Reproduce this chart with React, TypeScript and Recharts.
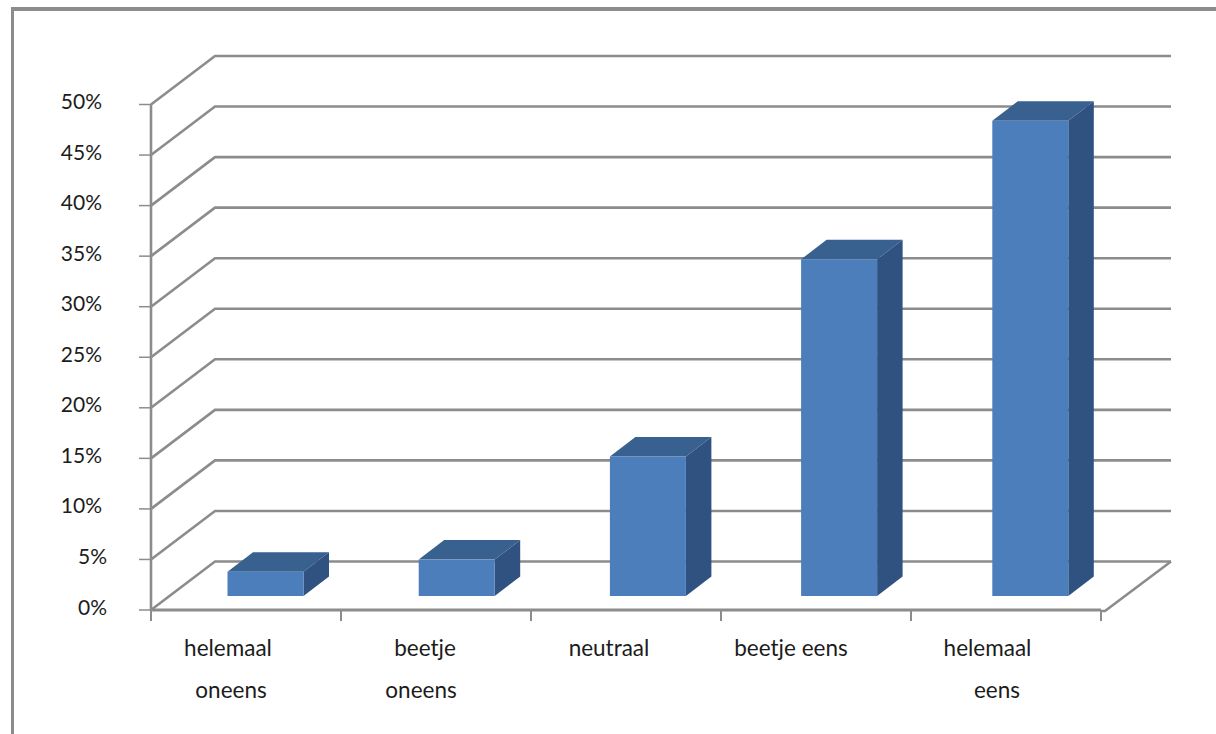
import React from "react";
import { BarChart, Bar, XAxis, YAxis, CartesianGrid } from "recharts";

const categories = ["helemaal oneens", "beetje oneens", "neutraal", "beetje eens", "helemaal eens"];
const percentages = [2.4, 3.6, 13.8, 33.3, 47.0];
const percentTicks = [0, 5, 10, 15, 20, 25, 30, 35, 40, 45, 50];

const data = categories.map((name, i) => ({ name, value: percentages[i] }));

// each category label is broken over lines, nudged left of the band centre
const labelLines: Record<string, { text: string; dx: number }[]> = {
  "helemaal oneens": [{ text: "helemaal", dx: -18 }, { text: "oneens", dx: -15 }],
  "beetje oneens": [{ text: "beetje", dx: -11 }, { text: "oneens", dx: -15 }],
  neutraal: [{ text: "neutraal", dx: -17 }],
  "beetje eens": [{ text: "beetje eens", dx: -25 }],
  "helemaal eens": [{ text: "helemaal", dx: -18.5 }, { text: "eens", dx: -9 }],
};

const GRID = "#8c8c8c";
const TEXT = "#1c1c1c";
const FONT = "Lato, Carlito, sans-serif";

const WIDTH = 1216;
const HEIGHT = 734;
const BAND = 190;
const XAXIS_HEIGHT = 124;
const FLOOR_Y = HEIGHT - XAXIS_HEIGHT;

// back wall sits up and to the right of the axis plane
const WALL_DX = 64;
const WALL_DY = 48.5;
// bars stand part way into the floor
const BAR_DX = 19.5;
const BAR_DY = 14;
const BAR_STEP = 1.2;
// extrusion of each bar
const DEPTH_X = 25.5;
const DEPTH_Y = 19.5;

function WallLine(props: any) {
  const { x1, x2, y1, index } = props;
  const backY = y1 - WALL_DY;
  const isFloor = Math.abs(y1 - FLOOR_Y) < 1;
  return (
    <g key={`wall-${index}`}>
      <polyline
        points={`${x1},${y1} ${x1 + WALL_DX},${backY} ${x2 + 70},${backY}`}
        fill="none"
        stroke={GRID}
        strokeWidth={2.6}
      />
      {isFloor && (
        <polyline
          points={`${x2},${y1 + 1} ${x2 + 4},${y1 + 1} ${x2 + 70},${backY}`}
          fill="none"
          stroke={GRID}
          strokeWidth={2.6}
        />
      )}
    </g>
  );
}

function Bar3D(props: any) {
  const { x, y, width, height, index } = props;
  const left = x + BAR_DX + index * BAR_STEP;
  const right = left + width;
  const top = y - BAR_DY;
  const bottom = top + height;
  return (
    <g>
      <polygon
        points={`${left},${top} ${left + DEPTH_X},${top - DEPTH_Y} ${right + DEPTH_X},${top - DEPTH_Y} ${right},${top}`}
        fill="#38618f"
      />
      <polygon
        points={`${right},${top} ${right + DEPTH_X},${top - DEPTH_Y} ${right + DEPTH_X},${bottom - DEPTH_Y} ${right},${bottom}`}
        fill="#2f5280"
      />
      <rect x={left} y={top} width={width} height={height} fill="#4d7ebc" />
    </g>
  );
}

function PercentTick(props: any) {
  const { y, payload } = props;
  const label = `${payload.value}%`;
  return (
    <text
      x={payload.value < 10 ? 107 : 102}
      y={y - 4}
      textAnchor="end"
      dominantBaseline="central"
      fontFamily={FONT}
      fontSize={21}
      fill={TEXT}
    >
      {label}
    </text>
  );
}

function CategoryTick(props: any) {
  const { x, payload, index } = props;
  const lines = labelLines[payload.value] || [];
  const tickX = x - BAND / 2;
  const isLast = index === categories.length - 1;
  return (
    <g>
      <line x1={tickX} x2={tickX} y1={FLOOR_Y} y2={FLOOR_Y + 11} stroke={GRID} strokeWidth={2} />
      {isLast && (
        <line x1={x + BAND / 2} x2={x + BAND / 2} y1={FLOOR_Y} y2={FLOOR_Y + 11} stroke={GRID} strokeWidth={2} />
      )}
      {lines.map((line, i) => (
        <text
          key={line.text}
          x={x + line.dx}
          y={647 + i * 42}
          textAnchor="middle"
          dominantBaseline="central"
          fontFamily={FONT}
          fontSize={22.5}
          fill={TEXT}
        >
          {line.text}
        </text>
      ))}
    </g>
  );
}

export default function App() {
  return (
    <div style={{ position: "absolute", left: 0, top: 0, width: WIDTH, height: HEIGHT, background: "#fff", overflow: "hidden" }}>
      <div
        style={{
          position: "absolute",
          left: 11,
          top: 7,
          width: WIDTH,
          height: HEIGHT,
          borderTop: `4px solid ${GRID}`,
          borderLeft: `3px solid ${GRID}`,
        }}
      />
      <div style={{ position: "absolute", left: 0, top: 0 }}>
        <BarChart
          width={WIDTH}
          height={HEIGHT}
          data={data}
          barCategoryGap="30%"
          margin={{ top: 104.5, right: 115, bottom: 0, left: 0 }}
        >
          <CartesianGrid vertical={false} horizontal={WallLine} />
          <XAxis
            dataKey="name"
            height={XAXIS_HEIGHT}
            interval={0}
            axisLine={{ stroke: GRID, strokeWidth: 3 }}
            tickLine={false}
            tick={CategoryTick}
          />
          <YAxis
            width={151}
            domain={[0, 50]}
            ticks={percentTicks}
            interval={0}
            tickSize={12}
            axisLine={{ stroke: GRID, strokeWidth: 2.6 }}
            tickLine={{ stroke: GRID, strokeWidth: 1.5 }}
            tick={PercentTick}
          />
          <Bar dataKey="value" shape={Bar3D} isAnimationActive={false} />
        </BarChart>
      </div>
    </div>
  );
}
